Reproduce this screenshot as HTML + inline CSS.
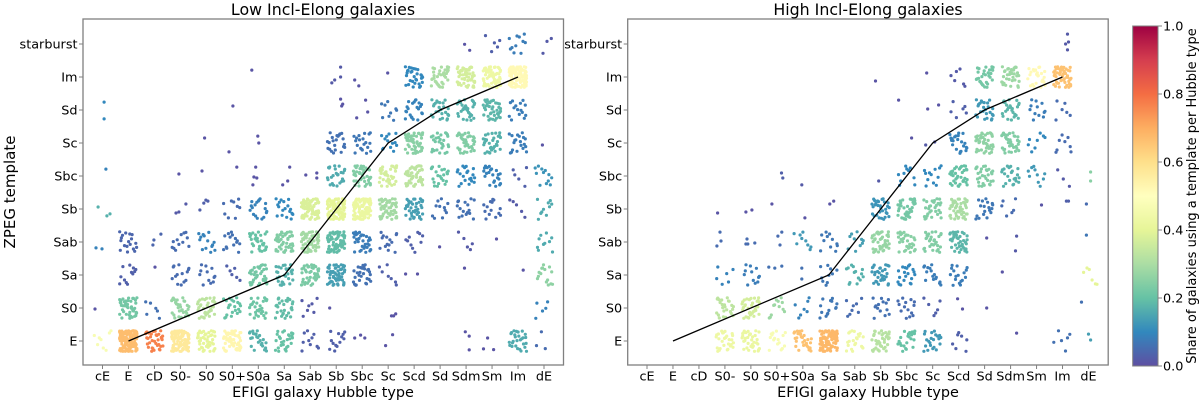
<!DOCTYPE html>
<html>
<head>
<meta charset="utf-8">
<title>ZPEG template by Hubble type</title>
<style>
html,body{margin:0;padding:0;background:#fff;}
svg{display:block;font-family:"DejaVu Sans","Liberation Sans",sans-serif;filter:blur(.3px);}
text{fill:#000;}
</style>
</head>
<body>
<svg id="chart" width="1200" height="403" viewBox="0 0 1200 403">
  <defs>
    <linearGradient id="spectral" x1="0" y1="1" x2="0" y2="0">
      <stop offset="0" stop-color="#5e4fa2"/><stop offset=".1" stop-color="#3288bd"/>
      <stop offset=".2" stop-color="#66c2a5"/><stop offset=".3" stop-color="#abdda4"/>
      <stop offset=".4" stop-color="#e6f598"/><stop offset=".5" stop-color="#ffffbf"/>
      <stop offset=".6" stop-color="#fee08b"/><stop offset=".7" stop-color="#fdae61"/>
      <stop offset=".8" stop-color="#f46d43"/><stop offset=".9" stop-color="#d53e4f"/>
      <stop offset="1" stop-color="#9e0142"/>
    </linearGradient>
  </defs>
  <text x="323" y="15" font-size="15.8" text-anchor="middle">Low Incl-Elong galaxies</text>
  <text x="868" y="15" font-size="15.8" text-anchor="middle">High Incl-Elong galaxies</text>
  <text x="323" y="397" font-size="14.4" text-anchor="middle">EFIGI galaxy Hubble type</text>
  <text x="868" y="397" font-size="14.4" text-anchor="middle">EFIGI galaxy Hubble type</text>
  <text transform="translate(15,192) rotate(-90)" font-size="15" text-anchor="middle">ZPEG template</text>
  <g id="low-panel"></g>
  <g id="high-panel"></g>
  <g id="colorbar">
    <rect x="1132.7" y="26" width="25.3" height="340" fill="url(#spectral)" stroke="#808080" stroke-width="1"/>
    <text transform="translate(1196,196) rotate(-90)" font-size="13" text-anchor="middle">Share of galaxies using a template per Hubble type</text>
  </g>
</svg>
<script>
const hubbleTypes = ["cE","E","cD","S0-","S0","S0+","S0a","Sa","Sab","Sb","Sbc","Sc","Scd","Sd","Sdm","Sm","Im","dE"];
const templates = ["E","S0","Sa","Sab","Sb","Sbc","Sc","Sd","Im","starburst"];
const colorbarTicks = [0,0.2,0.4,0.6,0.8,1.0];

const lineTypes = [1,7,9,11,13,16];
const lineTemplates = [0,2,4,6,7,8];

const lowCounts = [
[8,140,35,90,45,55,25,28,10,13,0,0,0,0,0,0,28,0],
[0,45,6,30,35,22,30,28,7,0,0,0,0,0,0,0,0,5],
[0,12,0,14,12,6,35,28,40,55,28,7,0,0,0,0,0,15],
[0,18,0,12,14,14,30,45,60,60,32,14,10,0,5,0,0,10],
[0,0,0,0,0,9,18,18,70,100,90,50,40,11,16,14,5,10],
[0,0,0,0,0,0,0,0,0,25,40,35,45,22,20,22,5,12],
[0,0,0,0,0,0,0,0,0,22,20,13,50,28,38,32,20,0],
[0,0,0,0,0,0,0,0,0,0,0,9,22,25,30,38,15,0],
[0,0,0,0,0,0,0,0,0,0,0,0,30,35,55,60,100,0],
[0,0,0,0,0,0,0,0,0,0,0,0,0,0,2,5,11,3]];
const lowShares = [
[.47,.67,.77,.57,.4,.53,.17,.2,.03,.03,0,0,0,0,0,0,.16,0],
[0,.22,.06,.27,.33,.2,.21,.19,.02,0,0,0,0,0,0,0,0,.09],
[0,.03,0,.05,.05,.03,.22,.17,.23,.14,.06,.03,0,0,0,0,0,.26],
[0,.04,0,.05,.09,.06,.2,.24,.29,.19,.08,.05,.03,0,.02,0,0,.16],
[0,0,0,0,0,.05,.09,.1,.38,.4,.42,.29,.14,.06,.06,.05,.02,.16],
[0,0,0,0,0,0,0,0,0,.16,.24,.37,.33,.2,.1,.09,.03,.12],
[0,0,0,0,0,0,0,0,0,.06,.07,.1,.25,.22,.24,.17,.08,0],
[0,0,0,0,0,0,0,0,0,0,0,.07,.09,.17,.17,.18,.08,0],
[0,0,0,0,0,0,0,0,0,0,0,0,.1,.3,.37,.43,.52,0],
[0,0,0,0,0,0,0,0,0,0,0,0,0,0,.01,.03,.08,.02]];
const lowSparse = [
[.06,7.24,.1],[.06,6.73,.1],[.13,5.21,.09],[5.75,8.21,.01],[5.02,7.12,.01],[3.93,6.15,.01],[4.87,5.73,.01],[5.98,6.21,.01],[6.02,6,.01],
[2.94,5.06,.01],[3.83,5.15,.01],[5.17,5.27,.01],[5.83,4.97,.01],[5.94,4.94,.01],[5.79,4.73,.01],[5.9,5.27,.01],[7.21,5.27,.01],[6.94,4.73,.01],[7.13,4.85,.01],
[7.83,5.03,.01],[8.25,5.09,.01],[8.25,4.94,.01],[9.17,8.3,.02],[8.83,7.82,.02],[8.94,7.91,.02],[9.17,8,.02],[9.71,7.91,.01],[9.87,7.73,.01],[10.98,8.12,.01],
[9.17,7.33,.01],[9.25,7.18,.01],[9.21,7.12,.01],[10.13,7.3,.01],[9.79,6.76,.01],[10.21,6.94,.01],[16.94,5.94,.01],
[-.17,4.06,.17],[.17,3.79,.17],[.29,3.85,.17],[2.83,3.88,.02],[2.94,3.91,.02],[3.21,4.15,.02],[3.75,3.97,.03],[3.9,4.18,.03],[3.98,4.27,.03],[4.06,4.24,.03],
[-.25,2.82,.09],[-.02,2.79,.09],[1.94,2.91,.04],[1.98,3.06,.04],[2.25,3.24,.04],[2.02,2.24,.01],[12.98,2.85,.01],[15.17,3.09,.01],
[11.67,2.03,.01],[12.13,2.03,.01],[13.94,2.21,.01],[16.2,2.15,.01],[-.29,.97,.01],[8.75,1,.01],[11.13,.76,.01],[11.21,.76,.01],[11.29,.82,.01],
[9.71,.09,.01],[9.94,.18,.01],[10.1,.09,.01],[10.9,-.14,.01],[11.17,.19,.01],[13.97,.28,.01],[14.12,.15,.01],[14.12,-.27,.01],[14.83,.09,.01],[14.67,-.24,.01],[15.06,-.26,.01],
[16.9,.28,.05],[16.71,-.14,.05],[17.05,-.23,.05]];

const highCounts = [
[0,0,0,28,35,16,30,85,22,40,22,22,7,0,0,0,6,0],
[0,0,0,25,35,12,7,14,8,14,14,6,0,0,0,0,0,0],
[0,0,0,6,12,0,0,10,14,30,20,16,17,0,0,0,0,6],
[0,0,0,0,0,0,9,11,10,40,30,30,40,0,0,0,0,0],
[0,0,0,0,0,0,0,0,0,30,35,30,50,18,6,0,0,0],
[0,0,0,0,0,0,0,0,0,0,10,12,35,30,22,10,3,0],
[0,0,0,0,0,0,0,0,0,0,0,0,22,40,35,8,8,0],
[0,0,0,0,0,0,0,0,0,0,0,0,6,25,25,12,6,0],
[0,0,0,0,0,0,0,0,0,0,0,0,6,30,35,25,50,0],
[0,0,0,0,0,0,0,0,0,0,0,0,0,0,0,0,0,0]];
const highShares = [
[0,0,0,.43,.42,.47,.66,.68,.43,.32,.2,.13,.03,0,0,0,.06,0],
[0,0,0,.33,.37,.28,.09,.07,.05,.06,.05,.03,0,0,0,0,0,0],
[0,0,0,.09,.08,0,0,.07,.17,.13,.1,.08,.08,0,0,0,0,.4],
[0,0,0,0,0,0,.13,.07,.14,.27,.25,.24,.18,0,0,0,0,0],
[0,0,0,0,0,0,0,0,0,.12,.22,.24,.3,.07,.05,0,0,0],
[0,0,0,0,0,0,0,0,0,0,.1,.1,.2,.24,.17,.13,.02,0],
[0,0,0,0,0,0,0,0,0,0,0,0,.09,.26,.24,.1,.05,0],
[0,0,0,0,0,0,0,0,0,0,0,0,.03,.13,.18,.08,.05,0],
[0,0,0,0,0,0,0,0,0,0,0,0,.02,.22,.28,.52,.66,0],
[0,0,0,0,0,0,0,0,0,0,0,0,0,0,0,0,0,0]];
const highSparse = [
[16.19,9.3,.02],[16.12,9,.02],[16.23,9.06,.02],[16.19,8.82,.02],[8.8,7.88,.01],[10.77,8.12,.01],[9.69,7.3,.01],[10.81,7.03,.01],[11.23,7.15,.01],
[10.19,6.15,.01],[10.73,5.94,.02],[11.08,6.03,.02],[5.18,5.09,.03],[5.23,4.94,.03],[5.96,4.73,.02],[8.92,4.85,.02],[17.08,5.12,.25],[17.08,4.85,.25],
[2.72,3.88,.01],[3.81,3.91,.01],[4.04,3.97,.01],[4.81,4.15,.01],[6.08,3.73,.01],[7.04,4.15,.01],[7.19,4.24,.01],[15.19,4.12,.01],[16.23,4.24,.03],[16.15,4.24,.03],[16.92,4.15,.05],
[13.08,3.12,.01],[14.23,3.18,.02],[14.19,2.73,.02],[16.92,3.21,.07],[2.81,3.3,.05],[2.85,3.03,.05],[2.69,2.88,.05],[3.85,3.09,.05],[3.81,2.94,.05],[3.88,2.94,.05],[4.15,2.97,.05],
[5.19,3.3,.05],[5.04,3.18,.05],[5.12,2.91,.05],[4.69,2.24,.06],[4.92,2.21,.06],[5.19,2.27,.06],[5.96,2.21,.06],[5.96,1.88,.06],[13.68,2.09,.01],
[13.08,1,.01],[11.96,1.28,.01],[12.15,.97,.01],[16.73,1.18,.06],[14.23,.24,.01],[17,.21,.14],[17.08,.03,.14]];

const xJitter = [-.93,.41,-.17,.78,-.55,.09,.96,-.36,.62,-.74,.27,-.05,.87,-.63,.49,-.25,.71,-.86,.15,-.45,.56,-.99,.34,.83,-.11,-.68,.01,.92,-.31,.2,-.8];
const yJitter = [.52,-.88,.13,.76,-.34,-.66,.97,.29,-.12,-.95,.63,.04,-.51,.85,-.23,.39,-.79,.7,-.42,.21,.91,-.6,-.03,.46,-.98,.58,-.28,.8,.1,-.72,.33,-.17,.94,-.47,.66,-.84,.25];
const spectralStops = ["#5e4fa2","#3288bd","#66c2a5","#abdda4","#e6f598","#ffffbf","#fee08b","#fdae61","#f46d43","#d53e4f","#9e0142"];

const NS = "http://www.w3.org/2000/svg";
function mk(parent, tag, attrs, txt) {
  const el = document.createElementNS(NS, tag);
  for (const k in attrs) el.setAttribute(k, attrs[k]);
  if (txt !== undefined) el.textContent = txt;
  parent.appendChild(el);
  return el;
}
function hex(c){return [1,3,5].map(i=>parseInt(c.substr(i,2),16));}
function shareColor(v){
  const t=Math.max(0,Math.min(1,v))*10, i=Math.min(9,Math.floor(t)), f=t-i;
  const a=hex(spectralStops[i]), b=hex(spectralStops[i+1]);
  return "rgb("+a.map((x,k)=>Math.round(x+(b[k]-x)*f)).join(",")+")";
}
function drawPanel(id, left, right, x0, counts, shares, sparse) {
  const g = document.getElementById(id);
  const sx = v => x0 + 25.97 * v;
  const sy = v => 341 - 33 * v;
  const pts = mk(g, "g", {});
  
  
  function dot(x, y, share) {
    const c = mk(pts, "circle", {cx:sx(x).toFixed(1), cy:sy(y).toFixed(1), r:1.6, fill:shareColor(share)});
    
    
  }
  counts.forEach((row, r) => row.forEach((n, c) => {
    for (let i = 0; i < n; i++) {
      const jx = xJitter[(i + c*7 + r*3) % xJitter.length];
      const jy = yJitter[(i + c*5 + r*11) % yJitter.length];
      dot(c + jx*0.34, r + jy*0.32, shares[r][c]);
    }
  }));
  sparse.forEach(p => dot(p[0], p[1], p[2]));
  const line = mk(g, "polyline", {
    points: lineTypes.map((t,i)=>sx(t).toFixed(1)+","+sy(lineTemplates[i]).toFixed(1)).join(" "),
    fill:"none", stroke:"#000", "stroke-width":1.3});
  
  
  const frame = mk(g, "rect", {x:left, y:19, width:right-left, height:346, fill:"none", stroke:"#808080", "stroke-width":1.3});
  
  
  hubbleTypes.forEach((t,i) => {
    const x = sx(i);
    const tick = mk(g, "line", {x1:x, x2:x, y1:365, y2:369, stroke:"#808080", "stroke-width":1});
    
    
    const label = mk(g, "text", {x:x, y:380.5, "font-size":12.8, "text-anchor":"middle"}, t);
    
    
  });
  templates.forEach((t,i) => {
    const y = sy(i);
    const tick = mk(g, "line", {x1:left-4, x2:left, y1:y, y2:y, stroke:"#808080", "stroke-width":1});
    
    
    const label = mk(g, "text", {x:left-5.5, y:y+4.7, "font-size":12.8, "text-anchor":"end"}, t);
    
    
  });
}
drawPanel("low-panel", 83, 563.5, 102.5, lowCounts, lowShares, lowSparse);
drawPanel("high-panel", 627.7, 1108.2, 647, highCounts, highShares, highSparse);

const cb = document.getElementById("colorbar");
colorbarTicks.forEach(v => {
  const y = 366 - 340 * v;
  const tick = mk(cb, "line", {x1:1158, x2:1162, y1:y, y2:y, stroke:"#808080", "stroke-width":1});
  
  
  const label = mk(cb, "text", {x:1163, y:y+4.7, "font-size":12.8}, v.toFixed(1));
  
  
});
</script>
</body>
</html>
